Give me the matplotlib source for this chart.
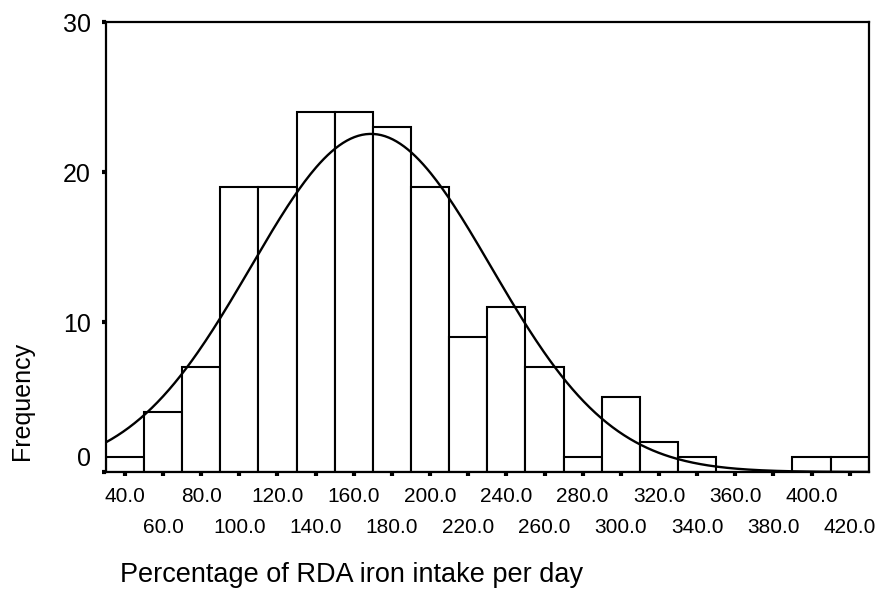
import matplotlib
matplotlib.use("Agg")
import matplotlib.pyplot as plt
import matplotlib.transforms as mtransforms
import numpy as np

plt.rcParams["font.family"] = ["Liberation Sans", "DejaVu Sans"]

# --------------------------------------------------------------------------- #
#  Data
# --------------------------------------------------------------------------- #

BIN_CENTERS = [40, 60, 80, 100, 120, 140, 160, 180, 200, 220,
               240, 260, 280, 300, 320, 340, 360, 380, 400, 420]
FREQUENCIES = [1, 4, 7, 19, 19, 24, 24, 23, 19, 9,
               11, 7, 1, 5, 2, 1, 0, 0, 1, 1]
BIN_WIDTH = 20

# fitted normal curve
CURVE_MEAN = 169.0
CURVE_SD = 63.0

Y_TICKS = [0, 10, 20, 30]

# --------------------------------------------------------------------------- #
#  Plot
# --------------------------------------------------------------------------- #

fig = plt.figure(figsize=(8.82, 6.13), dpi=100)
ax = fig.add_axes([0.120, 0.230, 0.865, 0.734])

ax.bar(BIN_CENTERS, FREQUENCIES, width=BIN_WIDTH, color="white",
       edgecolor="black", linewidth=1.5, zorder=2)

n_total = sum(FREQUENCIES)
xs = np.linspace(30, 430, 400)
ys = n_total * BIN_WIDTH / (CURVE_SD * np.sqrt(2 * np.pi)) * np.exp(
    -0.5 * ((xs - CURVE_MEAN) / CURVE_SD) ** 2)
ax.plot(xs, ys, color="black", linewidth=1.7, zorder=3)

ax.set_xlim(30, 430)
ax.set_ylim(0, 30)

for s in ax.spines.values():
    s.set_linewidth(1.6)

# staggered x labels: odd bins on first row, even bins on second row
row1 = BIN_CENTERS[0::2]
row2 = BIN_CENTERS[1::2]
ax.set_xticks(row1)
ax.set_xticklabels([f"{v:.1f}" for v in row1])
ax.set_xticks(row2, minor=True)
ax.set_xticklabels([f"{v:.1f}" for v in row2], minor=True)
ax.tick_params(axis="x", which="major", direction="out", length=3, width=3,
               pad=8, labelsize=15)
ax.tick_params(axis="x", which="minor", direction="out", length=3, width=3,
               pad=30, labelsize=15)

ax.set_yticks(Y_TICKS)
ax.set_yticklabels([str(v) for v in Y_TICKS])
ax.tick_params(axis="y", direction="out", length=3, width=3, pad=8,
               labelsize=18)
# the "0" label sits a bit above its tick in the original
zero_lbl = ax.get_yticklabels()[0]
zero_lbl.set_transform(zero_lbl.get_transform() +
                       mtransforms.ScaledTranslation(0, 16 / 100, fig.dpi_scale_trans))

fig.text(0.025, 1 - 401 / 613, "Frequency", rotation=90, ha="center",
         va="center", fontsize=18)
fig.text(120 / 882, 1 - 575 / 613, "Percentage of RDA iron intake per day",
         ha="left", va="center", fontsize=19.5)

fig.savefig("out.png", dpi=100, facecolor="white")
